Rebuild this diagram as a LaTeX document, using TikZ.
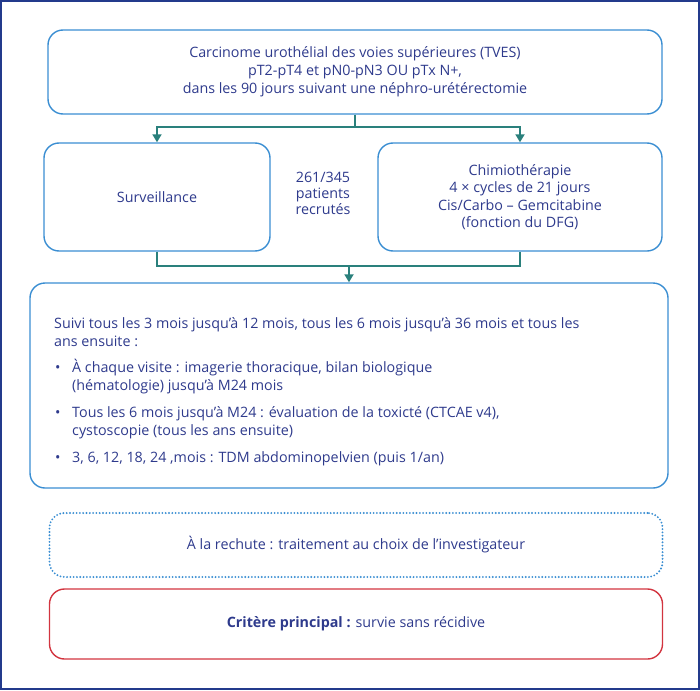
\documentclass[tikz,border=0pt]{standalone}
\usepackage{fontspec}
\setmainfont{Open Sans}
\usetikzlibrary{arrows.meta}
\definecolor{txt}{HTML}{2E3A8C}
\definecolor{boxblue}{HTML}{3A8ED2}
\definecolor{teal}{HTML}{2A807C}
\definecolor{redb}{HTML}{D2343F}
\definecolor{frame}{HTML}{233A8C}
\begin{document}
\begin{tikzpicture}[x=1pt,y=-1pt,
  every node/.style={text=txt,font=\fontsize{14.3}{18}\selectfont,inner sep=0pt},
  rbox/.style={draw=boxblue,line width=1.4pt,rounded corners=15pt},
  conn/.style={draw=teal,line width=1.8pt},
  arr/.style={conn,-{Triangle[width=9pt,length=8pt]}},
  ttext/.style={align=center},
  ln/.style={anchor=base west}]
\useasboundingbox (0,0) rectangle (700,690);
\draw[frame,line width=2pt] (1,1) rectangle (699,689);
\node[rbox,minimum width=614pt,minimum height=84pt] (top) at (355,72) {};
\node[ttext] (toptxt) at (355,72) {Carcinome urothélial des voies supérieures (TVES)\\pT2-pT4 et pN0-pN3 OU pTx N+,\\dans les 90 jours suivant une néphro-urétérectomie};
\node[rbox,minimum width=226pt,minimum height=108pt] (surv) at (157,197) {Surveillance};
\node[rbox,minimum width=284pt,minimum height=108pt] (chim) at (520,197) {};
\node[ttext,font=\fontsize{14.3}{17.5}\selectfont] (chimtxt) at (520,197) {Chimiothérapie\\4 × cycles de 21 jours\\Cis/Carbo – Gemcitabine\\(fonction du DFG)};
\node[ttext,font=\fontsize{14.3}{16}\selectfont] (mid) at (323,193) {261/345\\patients\\recrutés};
\node[rbox,minimum width=638pt,minimum height=205pt] (big) at (349,385.5) {};
\coordinate (split) at (355,127);
\coordinate (join) at (349,266);
\draw[conn] (top.south) -- (split);
\draw[arr] (split) -| (surv.north);
\draw[arr] (split) -| (chim.north);
\draw[conn] (surv.south) -- (surv.south |- join) -- (chim.south |- join) -- (chim.south);
\draw[arr] (join) -- (big.north);
\node[ln] (l1) at (54,328) {Suivi tous les 3 mois jusqu’à 12 mois, tous les 6 mois jusqu’à 36 mois et tous les};
\node[ln] (l2) at (54,346) {ans ensuite :};
\node[ln] (bu1) at (55,372) {•};
\node[ln] (l3) at (72,372) {À chaque visite : imagerie thoracique, bilan biologique};
\node[ln] (l4) at (72,390) {(hématologie) jusqu’à M24 mois};
\node[ln] (bu2) at (55,417) {•};
\node[ln] (l5) at (72,417) {Tous les 6 mois jusqu’à M24 : évaluation de la toxicté (CTCAE v4),};
\node[ln] (l6) at (72,435) {cystoscopie (tous les ans ensuite)};
\node[ln] (bu3) at (55,462) {•};
\node[ln] (l7) at (72,462) {3, 6, 12, 18, 24 ,mois : TDM abdominopelvien (puis 1/an)};
\node[draw=boxblue,line width=2.1pt,dash pattern=on 0pt off 3.3pt,line cap=round,rounded corners=15pt,minimum width=613pt,minimum height=64pt] (relapse) at (356,545) {À la rechute : traitement au choix de l’investigateur};
\node[draw=redb,line width=1.4pt,rounded corners=15pt,minimum width=613pt,minimum height=70pt] (crit) at (356,624) {\textbf{Critère principal :} survie sans récidive};
\end{tikzpicture}
\end{document}
